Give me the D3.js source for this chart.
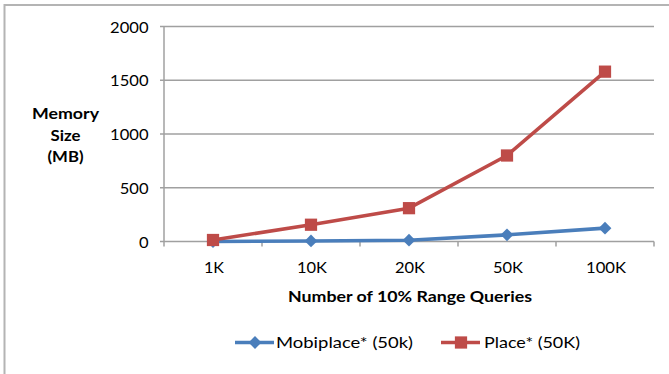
<!DOCTYPE html>
<html>
<head>
<meta charset="utf-8">
<script src="https://cdn.jsdelivr.net/npm/d3@7"></script>
<style>
  html, body { margin: 0; padding: 0; background: #fff; }
  svg { display: block; font-family: Lato, "Open Sans", sans-serif; }
</style>
</head>
<body>
<svg id="chart" width="669" height="374"></svg>
<script>
// Query counts on the x axis
const categories = ["1K", "10K", "20K", "50K", "100K"];
// Memory size in MB for each approach
const mobiplace = [0, 5, 12, 62, 124];
const place = [14, 156, 310, 800, 1580];
const yTicks = [0, 500, 1000, 1500, 2000];
const seriesNames = ["Mobiplace* (50k)", "Place* (50K)"];

const svg = d3.select("#chart");
const W = 669, H = 374;
const plot = { left: 164, right: 654, top: 26.5, bottom: 241.5 };

const x = d3.scaleBand().domain(categories).range([plot.left, plot.right]).padding(0);
const y = d3.scaleLinear().domain([0, 2000]).range([plot.bottom, plot.top]);
const cx = c => x(c) + x.bandwidth() / 2;

const blue = "#4a7ebb", red = "#be4b48";
const gridColor = "#a0a0a0";
const FS = 15.8;

// widen glyphs to a given horizontal extent
const fit = (sel, w) => sel.attr("textLength", w).attr("lengthAdjust", "spacingAndGlyphs");

// outer frame: top and left edges only
svg.append("path")
  .attr("d", `M4.5,${H} L4.5,5 L${W},5`)
  .attr("fill", "none").attr("stroke", "#b4b4b4").attr("stroke-width", 2);

// horizontal gridlines with small outward ticks on the left
svg.append("g").selectAll("line").data(yTicks.filter(d => d > 0)).join("line")
  .attr("x1", plot.left - 4).attr("x2", plot.right)
  .attr("y1", d => y(d)).attr("y2", d => y(d))
  .attr("stroke", gridColor).attr("stroke-width", 1.5);

// value axis
svg.append("line")
  .attr("x1", plot.left).attr("x2", plot.left)
  .attr("y1", plot.top).attr("y2", plot.bottom)
  .attr("stroke", gridColor).attr("stroke-width", 1.5);

// category axis with tick marks at band boundaries
svg.append("line")
  .attr("x1", plot.left - 4).attr("x2", plot.right)
  .attr("y1", y(0)).attr("y2", y(0))
  .attr("stroke", gridColor).attr("stroke-width", 1.5);
const bounds = categories.map(c => x(c)).concat([plot.right]);
svg.append("g").selectAll("line").data(bounds).join("line")
  .attr("x1", d => d).attr("x2", d => d)
  .attr("y1", y(0)).attr("y2", y(0) + 5)
  .attr("stroke", gridColor).attr("stroke-width", 1.5);

// y tick labels
svg.append("g").selectAll("text").data(yTicks).join("text")
  .attr("x", 148.5).attr("y", d => y(d) + 6)
  .attr("text-anchor", "end")
  .attr("font-size", FS).attr("fill", "#000")
  .text(d => d)
  .each(function (d) { fit(d3.select(this), String(d).length * 9.6); });

// x tick labels
svg.append("g").selectAll("text").data(categories).join("text")
  .attr("x", d => cx(d) + 1).attr("y", 273)
  .attr("text-anchor", "middle")
  .attr("font-size", FS).attr("fill", "#000")
  .text(d => d)
  .each(function (d) { fit(d3.select(this), d.length * 10); });

// axis titles
fit(svg.append("text")
  .attr("x", 410).attr("y", 301.5)
  .attr("text-anchor", "middle").attr("font-weight", "bold")
  .attr("font-size", FS).text("Number of 10% Range Queries"), 244);

const yTitle = svg.append("text")
  .attr("text-anchor", "middle").attr("font-weight", "bold")
  .attr("font-size", FS);
[["Memory", 67], ["Size", 30], ["(MB)", 36]].forEach(([t, w], i) => {
  fit(yTitle.append("tspan").attr("x", 65.5).attr("y", 119 + i * 21.5).text(t), w);
});

// series lines and markers
const line = d3.line()
  .x((d, i) => cx(categories[i]))
  .y(d => y(d));

const series = [
  { name: seriesNames[0], values: mobiplace, color: blue, symbol: d3.symbolSquare, size: 82, rot: 45, textW: 137 },
  { name: seriesNames[1], values: place, color: red, symbol: d3.symbolSquare, size: 150, rot: 0, textW: 96 }
];

series.forEach(s => {
  svg.append("path")
    .datum(s.values)
    .attr("d", line)
    .attr("fill", "none").attr("stroke", s.color)
    .attr("stroke-width", 3.6).attr("stroke-linejoin", "round");
  svg.append("g").selectAll("path").data(s.values).join("path")
    .attr("transform", (d, i) => `translate(${cx(categories[i])},${y(d)}) rotate(${s.rot})`)
    .attr("d", d3.symbol().type(s.symbol).size(s.size))
    .attr("fill", s.color);
});

// legend
const legendX = [235, 441];
series.forEach((s, i) => {
  const g = svg.append("g").attr("transform", `translate(${legendX[i]},342.5)`);
  g.append("line").attr("x1", 0).attr("x2", 39).attr("y1", 0).attr("y2", 0)
    .attr("stroke", s.color).attr("stroke-width", 3.6);
  g.append("path").attr("transform", `translate(20,0) rotate(${s.rot})`)
    .attr("d", d3.symbol().type(s.symbol).size(s.size)).attr("fill", s.color);
  fit(g.append("text").attr("x", 41 + i * 2).attr("y", 5.5)
    .attr("font-size", FS).attr("fill", "#000").text(s.name), s.textW);
});
</script>
</body>
</html>
